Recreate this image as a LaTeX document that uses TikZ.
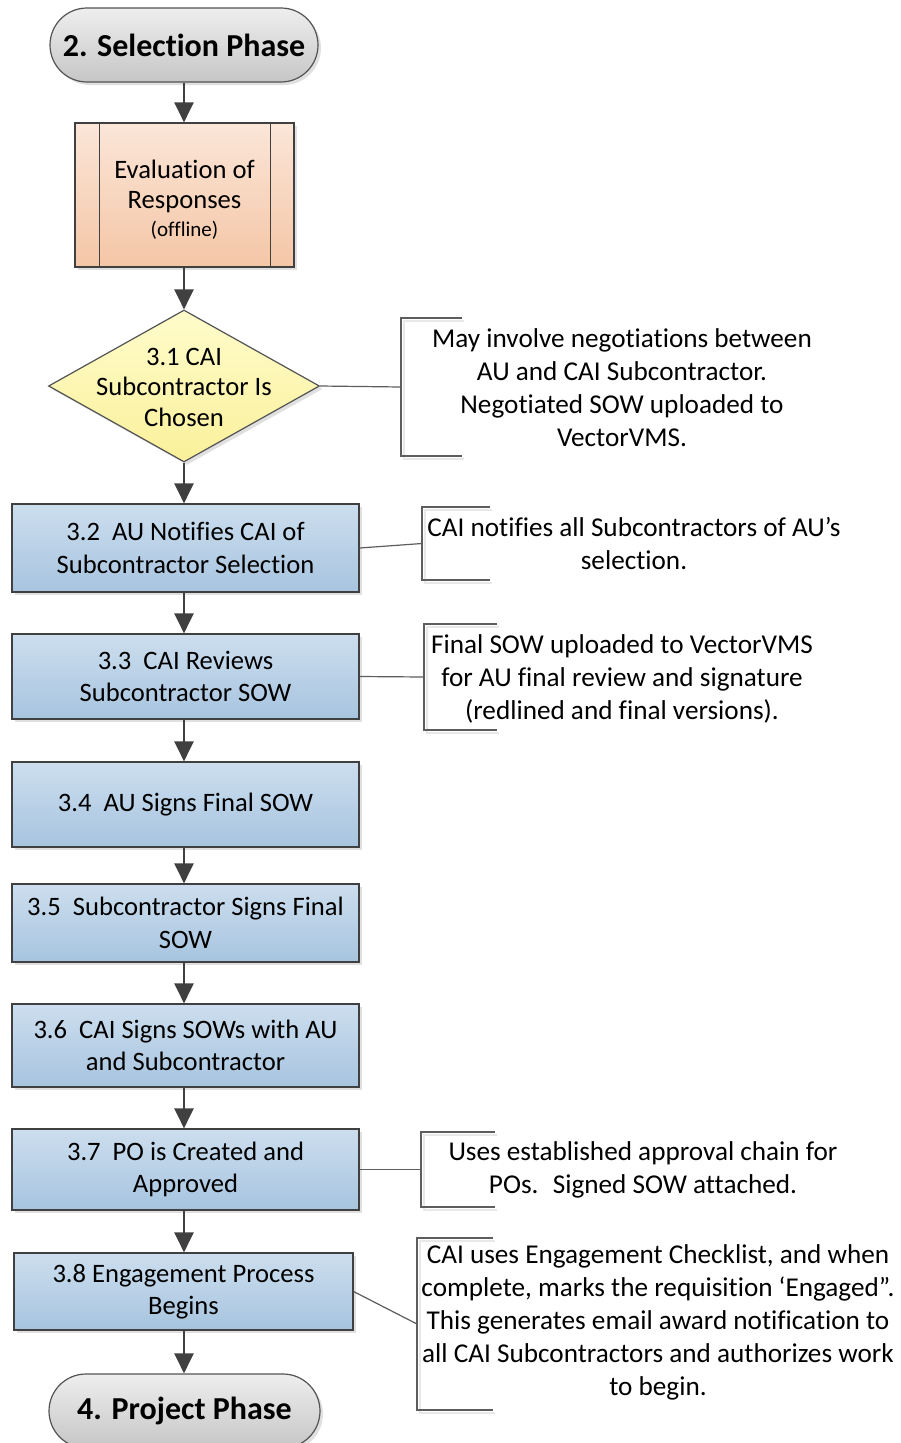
\documentclass[tikz,border=0pt]{standalone}
\usepackage{fontspec}
\setmainfont{Carlito}[Ligatures=NoCommon]
\usetikzlibrary{arrows.meta,shapes.geometric,shadows,calc}
\definecolor{linec}{HTML}{404040}
\definecolor{boxtop}{HTML}{CCDEEE}
\definecolor{boxbot}{HTML}{A7C4DF}
\definecolor{evtop}{HTML}{FBE6D8}
\definecolor{evbot}{HTML}{F4C6A6}
\definecolor{dmtop}{HTML}{FFFCCB}
\definecolor{dmbot}{HTML}{FAF09A}
\definecolor{tmtop}{HTML}{EEEEEE}
\definecolor{tmbot}{HTML}{C6C6C6}
\newcommand\annbrk[4]{%
  \draw[brksh] (#4+2,#2+2.5) -- (#1+2.5,#2+2.5) -- (#1+2.5,#3+2.5) -- (#4+2,#3+2.5);
  \draw[brk] (#4,#2) -- (#1,#2) -- (#1,#3) -- (#4,#3);}
\begin{document}
\begin{tikzpicture}[x=1pt,y=-1pt,
  txt/.style={font=\fontsize{26.6}{32.5}\selectfont, align=center},
  shd/.style={drop shadow={shadow xshift=3pt,shadow yshift=-3pt,fill=black!30,opacity=0.4}},
  proc/.style={rectangle, draw=linec, line width=1.2pt, top color=boxtop, bottom color=boxbot,
    minimum width=347pt, inner sep=0pt, shd, txt},
  term/.style={rectangle, rounded corners=37pt, draw=linec!90, line width=1.2pt, top color=tmtop,
    bottom color=tmbot, minimum height=74pt, inner sep=0pt, shd,
    font=\bfseries\fontsize{32}{38}\selectfont},
  arr/.style={draw=linec, line width=2.5pt, -{Triangle[width=19pt,length=20pt]}},
  conn/.style={draw=linec!85, line width=1.2pt},
  brk/.style={draw=linec!85, line width=1.3pt},
  brksh/.style={draw=black!9, line width=2pt},
  note/.style={font=\fontsize{27.2}{33}\selectfont, align=center, inner sep=0pt}]
\useasboundingbox (0,0) rectangle (901,1443);
\fill[white] (0,0) rectangle (901,1443);

% terminators and process column
\node[term, minimum width=268pt] (t1) at (184,45) {2. Selection Phase};
\node[rectangle, draw=linec, line width=1.2pt, top color=evtop, bottom color=evbot,
  minimum width=219pt, minimum height=144pt, inner sep=0pt, shd] (eval) at (184.5,195) {};
\draw[linec, line width=1.2pt] ($(eval.north west)+(25,0)$) -- ($(eval.south west)+(25,0)$);
\draw[linec, line width=1.2pt] ($(eval.north east)+(-24,0)$) -- ($(eval.south east)+(-24,0)$);
\node[txt] (evalt) at (184.5,200) {Evaluation of\\[-3pt]Responses\\[-4pt]{\fontsize{21}{26}\selectfont (offline)}};

\node[diamond, draw=linec!90, line width=1.2pt, top color=dmtop, bottom color=dmbot,
  minimum width=271pt, minimum height=152pt, inner sep=0pt, shd] (d31) at (184,386) {};
\node[txt] (d31t) at (184,387) {3.1 CAI\\[-2pt]Subcontractor Is\\[-2pt]Chosen};

\node[proc, minimum height=88pt] (b32) at (185.5,548) {3.2~ AU Notifies CAI of\\Subcontractor Selection};
\node[proc, minimum height=85pt] (b33) at (185.5,676.5) {3.3~ CAI Reviews\\Subcontractor SOW};
\node[proc, minimum height=85pt] (b34) at (185.5,804.5) {3.4~ AU Signs Final SOW};
\node[proc, minimum height=78pt] (b35) at (185.5,923) {3.5~ Subcontractor Signs Final\\SOW};
\node[proc, minimum height=83pt] (b36) at (185.5,1045.5) {3.6~ CAI Signs SOWs with AU\\and Subcontractor};
\node[proc, minimum height=81pt] (b37) at (185.5,1169.5) {3.7~ PO is Created and\\Approved};
\node[proc, minimum height=77pt, minimum width=339pt] (b38) at (183.5,1291.5) {3.8 Engagement Process\\Begins};
\node[term, minimum width=271pt] (t2) at (184.5,1411) {4. Project Phase};

% arrows
\draw[arr] (t1.south) -- (t1.south |- eval.north);
\draw[arr] (t1.south |- eval.south) -- (d31.north);
\draw[arr] (d31.south) -- (d31.south |- b32.north);
\draw[arr] (d31.south |- b32.south) -- (d31.south |- b33.north);
\draw[arr] (d31.south |- b33.south) -- (d31.south |- b34.north);
\draw[arr] (d31.south |- b34.south) -- (d31.south |- b35.north);
\draw[arr] (d31.south |- b35.south) -- (d31.south |- b36.north);
\draw[arr] (d31.south |- b36.south) -- (d31.south |- b37.north);
\draw[arr] (d31.south |- b37.south) -- (d31.south |- b38.north);
\draw[arr] (d31.south |- b38.south) -- (d31.south |- t2.north);

% annotations
\annbrk{401}{318}{456}{462}
\coordinate (a1m) at (401,387);
\node[note] (n31) at (622,387.5) {May involve negotiations between\\AU and CAI Subcontractor.\\Negotiated SOW uploaded to\\VectorVMS.};
\draw[conn] (d31.east) -- (a1m);

\annbrk{422}{507}{580}{490}
\coordinate (a2m) at (422,543.5);
\node[note] (n32) at (634,544) {CAI notifies all Subcontractors of AU’s\\selection.};
\draw[conn] (b32.east) -- (a2m);

\annbrk{424}{624}{730}{497}
\coordinate (a3m) at (424,677);
\node[note] (n33) at (622,679) {Final SOW uploaded to VectorVMS\\for AU final review and signature\\(redlined and final versions).};
\draw[conn] (b33.east) -- (a3m);

\annbrk{421}{1132}{1207}{495}
\coordinate (a4m) at (421,1169.5);
\node[note] (n37) at (643,1169.5) {Uses established approval chain for\\POs.~ Signed SOW attached.};
\draw[conn] (b37.east) -- (a4m);

\annbrk{417}{1238}{1410}{493}
\coordinate (a5m) at (417,1324);
\node[note] (n38) at (658,1322) {CAI uses Engagement Checklist, and when\\complete, marks the requisition ‘Engaged”.\\This generates email award notification to\\all CAI Subcontractors and authorizes work\\to begin.};
\draw[conn] (b38.east) -- (a5m);
\end{tikzpicture}
\end{document}
